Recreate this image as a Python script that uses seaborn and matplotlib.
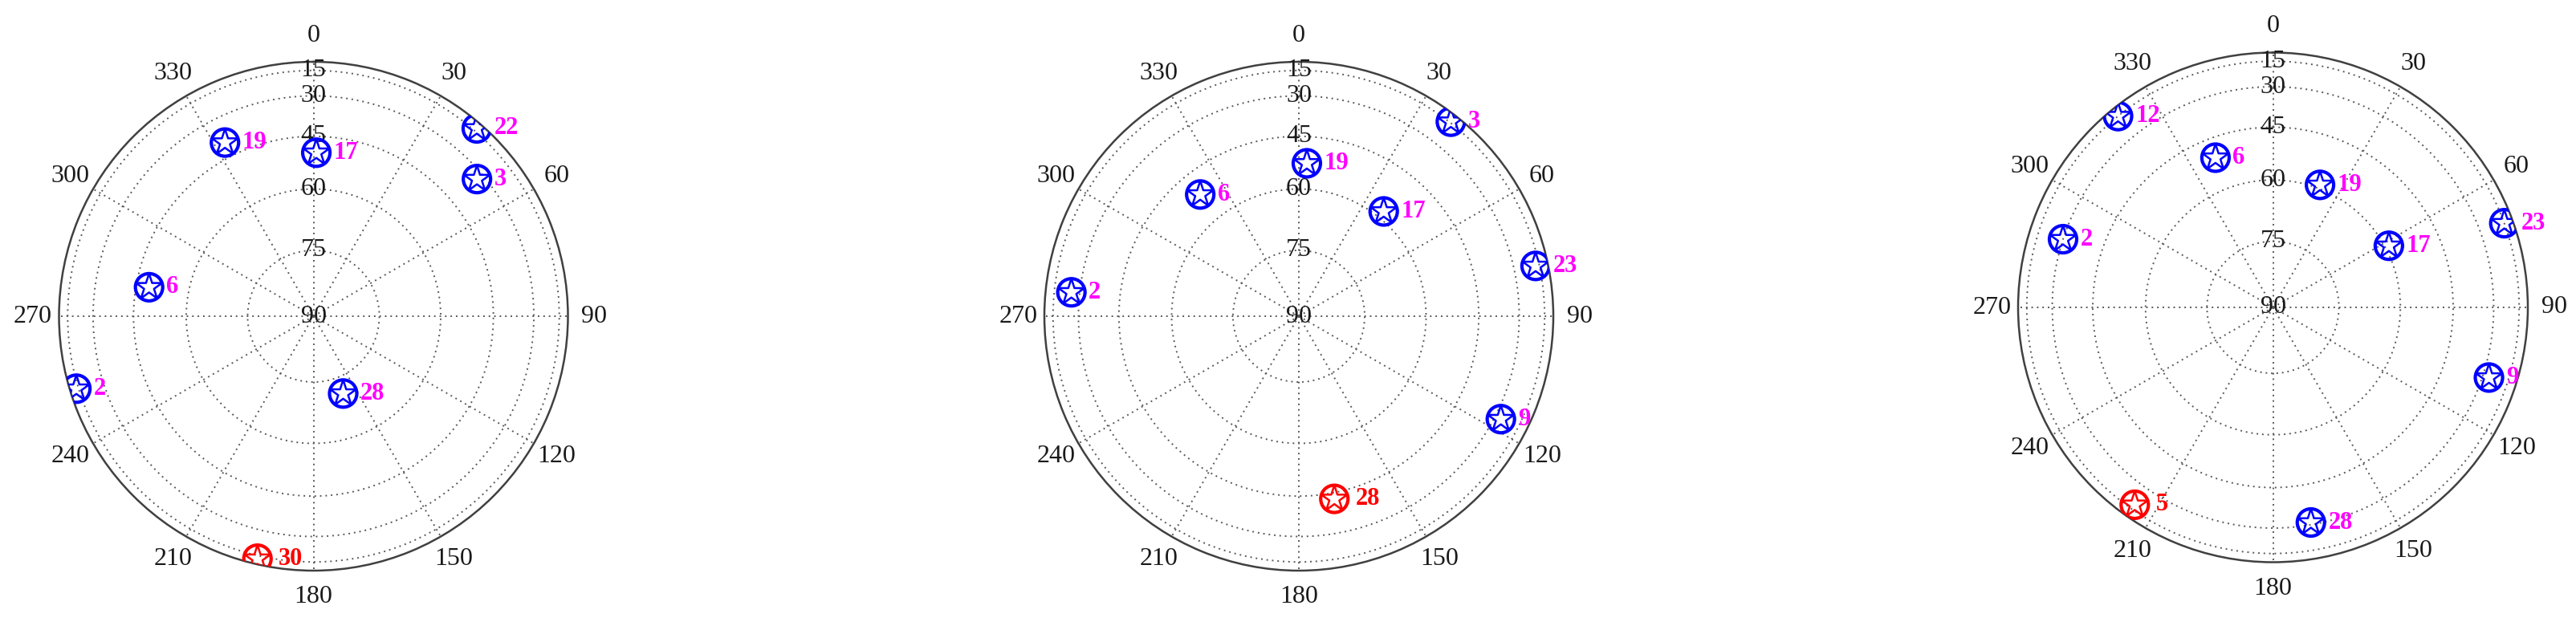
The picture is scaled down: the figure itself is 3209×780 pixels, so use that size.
import numpy as np
import matplotlib
matplotlib.use("Agg")
import matplotlib.pyplot as plt
import seaborn as sns

# satellite sky plots, three epochs
prn1 = [22, 3, 19, 17, 6, 2, 28, 30]
az1 = [41, 50, 333, 1, 280, 253, 159, 193]
el1 = [12, 33, 40, 50, 49, 13, 71, 12]
red1 = [30]

prn2 = [3, 19, 6, 17, 2, 23, 9, 28]
az2 = [38, 3, 321, 39, 276, 78, 117, 169]
el2 = [14, 53, 52, 58, 26, 18, 27, 43]
red2 = [28]

prn3 = [12, 6, 19, 23, 2, 17, 9, 5, 28]
az3 = [321, 339, 21, 70, 288, 62, 108, 215, 170]
el3 = [15, 51, 59, 15, 30, 59, 27, 19, 31]
red3 = [5]

elev_rings = [15, 30, 45, 60, 75]
az_ticks = list(range(0, 360, 30))

sns.set_style("white")
plt.rcParams['font.family'] = ['Liberation Serif', 'DejaVu Serif']

W, H = 3209, 780
fig = plt.figure(figsize=(W / 100, H / 100), dpi=100)

# (centre x, centre y, radius) in pixels
boxes = [(390.5, 394, 317), (1618, 394, 317), (2831.5, 383, 317.5)]
panels = [(prn1, az1, el1, red1), (prn2, az2, el2, red2), (prn3, az3, el3, red3)]

grid_kw = dict(color='0.35', linestyle=(0, (1, 2.5)), linewidth=1.4)

for (cx, cy, R), (prn, az, el, red) in zip(boxes, panels):
    ax = fig.add_axes([(cx - R) / W, (H - cy - R) / H, 2 * R / W, 2 * R / H],
                      projection='polar')
    ax.set_theta_zero_location('N')
    ax.set_theta_direction(-1)

    theta = np.deg2rad(az)
    r = np.cos(np.deg2rad(el))
    bad = np.isin(prn, red)

    for mask, col in [(~bad, 'blue'), (bad, 'red')]:
        for mk in ['o', '*']:
            sns.scatterplot(x=theta[mask], y=r[mask], ax=ax, marker=mk, s=600,
                            color=col, facecolor='none', edgecolor=col,
                            linewidth=3.0 if mk == 'o' else 1.8, zorder=5,
                            legend=False)

    for t, rr, p, b in zip(theta, r, prn, bad):
        ax.annotate(str(p), (t, rr), xytext=(19 if b else 15.5, 0),
                    textcoords='offset points', ha='left', va='center',
                    fontsize=22, fontweight='bold',
                    color='red' if b else '#FF00FF', zorder=6)

    ax.set_ylim(0, 1)
    ax.set_xticks(np.deg2rad(az_ticks))
    ax.set_yticks(np.cos(np.deg2rad(elev_rings)))
    ax.set_xticklabels([])
    ax.set_yticklabels([])
    ax.tick_params(length=0)
    ax.grid(True, **grid_kw)
    ax.spines['polar'].set_color('0.25')
    ax.spines['polar'].set_linewidth(1.8)
    ax.set_xlabel('')
    ax.set_ylabel('')

    for a in az_ticks:
        ax.text(np.deg2rad(a), 1.103, str(a), ha='center', va='center',
                fontsize=23, color='0.1')
    for e in elev_rings + [90]:
        ax.text(0, np.cos(np.deg2rad(e)), str(e), ha='center', va='center',
                fontsize=23, color='0.1', zorder=4)

fig.savefig('out.png', dpi=100)
